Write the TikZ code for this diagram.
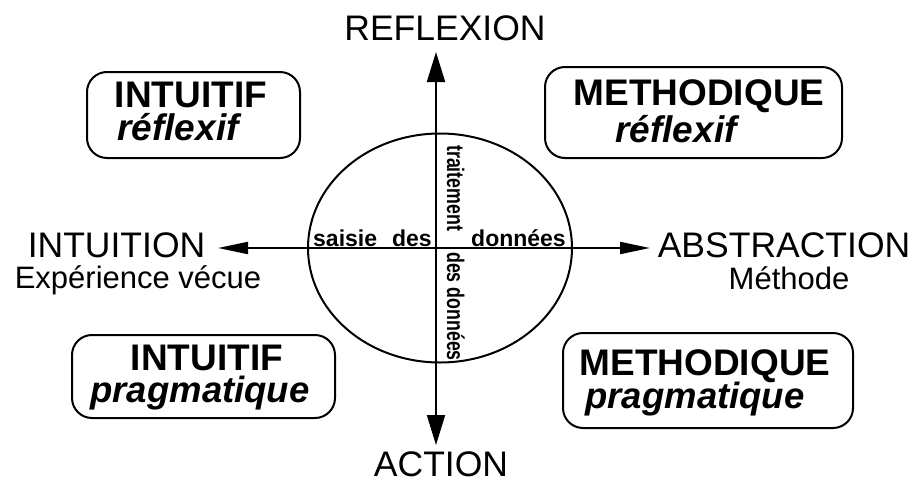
\documentclass[tikz,border=0pt]{standalone}
\usepackage{fontspec}
\setmainfont{Liberation Sans}
\newfontfamily\vertf{Liberation Sans}[FakeStretch=0.74]
\usetikzlibrary{arrows.meta,shapes.geometric}
\newcommand{\fsz}[1]{\fontsize{#1}{#1}\selectfont}
\begin{document}
\begin{tikzpicture}[x=1pt,y=-1pt,
  box/.style={draw, line width=2pt, rounded corners=20pt, inner sep=0pt},
  axisline/.style={line width=2pt},
  harrow/.style={axisline, -{Triangle[length=30pt,width=12pt]}},
  varrow/.style={axisline, -{Triangle[length=30pt,width=18pt]}},
  lbl/.style={inner sep=0pt, anchor=base},
  big/.style={lbl, font=\fsz{35.5}},
  sub/.style={lbl, font=\fsz{31}},
  ttl/.style={lbl, font=\fsz{37}\bfseries},
  ital/.style={lbl, font=\fsz{37}\bfseries\itshape},
  small/.style={inner sep=0pt, anchor=base west, font=\fsz{23}\bfseries},
  vsmall/.style={inner sep=0pt, anchor=base west, rotate=-90, font=\vertf\fsz{24}\bfseries},
]
\useasboundingbox (0,0) rectangle (920,479);
% ellipse
\node[ellipse, draw, line width=2pt, minimum width=264pt, minimum height=229pt, inner sep=0pt] (E) at (440,248) {};
% axes
\coordinate (C) at (436,248);
\coordinate (T) at (436,52);
\coordinate (B) at (436,445);
\coordinate (L) at (218,248);
\coordinate (R) at (650,248);
\draw[varrow] (C) -- (T);
\draw[varrow] (C) -- (B);
\draw[harrow] (C) -- (L);
\draw[harrow] (C) -- (R);
% axis labels
\node[big] (refl) at (445,40) {REFLEXION};
\node[big] (act) at (441,476) {ACTION};
\node[big] (intu) at (116.5,257) {INTUITION};
\node[sub] (exp) at (138,288) {Expérience vécue};
\node[big] (abst) at (784,257) {ABSTRACTION};
\node[sub] (meth) at (789,289) {Méthode};
% ellipse labels
\node[small] (sd) at (313,246) {saisie\hspace{15pt}des};
\node[small] (don) at (471,246) {données};
\node[vsmall] (trt) at (447,145) {traitement};
\node[vsmall] (ddon) at (447,252) {des données};
% boxes
\node[box, minimum width=213pt, minimum height=86pt] (b1) at (193.5,115) {};
\node[ttl] (b1t) at (191,107) {INTUITIF};
\node[ital] (b1s) at (178,140) {réflexif};
\node[box, minimum width=297pt, minimum height=91pt] (b2) at (693.5,112.5) {};
\node[ttl] (b2t) at (699,105) {METHODIQUE};
\node[ital] (b2s) at (676,142) {réflexif};
\node[box, minimum width=263pt, minimum height=83pt] (b3) at (203.5,376.5) {};
\node[ttl] (b3t) at (207,370) {INTUITIF};
\node[ital, font=\fsz{36.5}\bfseries\itshape] (b3s) at (200,402) {pragmatique};
\node[box, minimum width=290pt, minimum height=95pt] (b4) at (708,380.5) {};
\node[ttl] (b4t) at (705,375) {METHODIQUE};
\node[ital, font=\fsz{36.5}\bfseries\itshape] (b4s) at (695,408) {pragmatique};
\end{tikzpicture}
\end{document}
